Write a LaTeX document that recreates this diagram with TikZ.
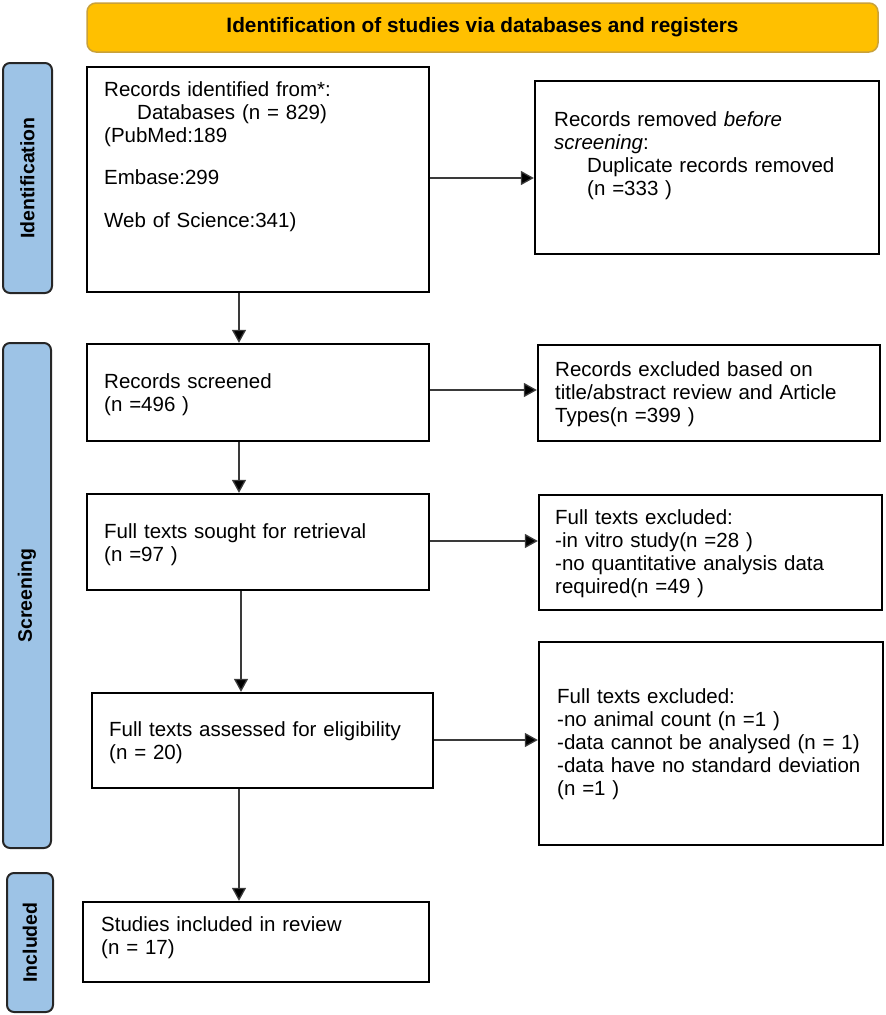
\documentclass[tikz,border=0pt]{standalone}
\usepackage{fontspec}
\setmainfont{Liberation Sans}
\usetikzlibrary{arrows.meta}
\definecolor{barblue}{HTML}{9DC3E6}
\definecolor{bannerfill}{HTML}{FFC000}
\definecolor{bannerdraw}{HTML}{C9A13A}
\definecolor{arrgray}{HTML}{3A3A3A}
\newcommand\fsz{\fontsize{20.5}{23}\selectfont}
\newcommand\bsz{\fontsize{19.5}{22}\selectfont\bfseries}
\begin{document}
\begin{tikzpicture}[x=1pt,y=-1pt,
  box/.style={draw=black, line width=2.3pt, fill=white, inner sep=0pt},
  sidebar/.style={draw=black!85, line width=2pt, fill=barblue, rounded corners=7pt, inner sep=0pt},
  barlabel/.style={rotate=90, font=\bsz, text=black},
  txt/.style={font=\fsz, inner sep=0pt, anchor=base west, text width=330pt, align=left},
  arr/.style={draw=arrgray, line width=1.3pt, -{Triangle[length=13pt,width=14pt,fill=black]}}
]
\useasboundingbox (0,0) rectangle (886,1015);

% banner
\node[draw=bannerdraw, line width=1.5pt, fill=bannerfill, rounded corners=9pt,
      minimum width=791pt, minimum height=49pt, inner sep=0pt,
      font=\fontsize{20.8}{22}\selectfont\bfseries] (banner) at (482.5,27.5)
      {Identification of studies via databases and registers};

% side bars
\node[sidebar, minimum width=49pt, minimum height=230pt] (barI) at (27.5,178) {};
\node[barlabel] (labI) at (barI.center) {Identification};
\node[sidebar, minimum width=48pt, minimum height=505pt] (barS) at (27,595.5) {};
\node[barlabel] (labS) at (barS.center) {Screening};
\node[sidebar, minimum width=46pt, minimum height=139pt] (barC) at (30,942.5) {};
\node[barlabel] (labC) at (barC.center) {Included};

% left boxes
\node[box, minimum width=342pt, minimum height=225pt] (B1) at (258,179.5) {};
\node[box, minimum width=342pt, minimum height=97pt] (B2) at (258,392.5) {};
\node[box, minimum width=342pt, minimum height=96pt] (B3) at (258,542) {};
\node[box, minimum width=341pt, minimum height=95pt] (B4) at (262.5,740.5) {};
\node[box, minimum width=346pt, minimum height=80pt] (B5) at (256,942) {};

% right boxes
\node[box, minimum width=344pt, minimum height=173pt] (R1) at (707,167.5) {};
\node[box, minimum width=342pt, minimum height=96pt] (R2) at (709,393) {};
\node[box, minimum width=343pt, minimum height=115pt] (R3) at (710.5,552.5) {};
\node[box, minimum width=344pt, minimum height=203pt] (R4) at (711,743.5) {};

% texts
\node[txt] (tB1) at (104,96) {Records identified from*:\\
\hspace*{33pt}Databases (n = 829)\\
(PubMed:189\\[19.5pt]
Embase:299\\[19.5pt]
Web of Science:341)};
\node[txt] (tB2) at (104,388) {Records screened\\(n =496 )};
\node[txt] (tB3) at (104,538) {Full texts sought for retrieval\\(n =97 )};
\node[txt] (tB4) at (109,736) {Full texts assessed for eligibility\\(n = 20)};
\node[txt] (tB5) at (101,931) {Studies included in review\\(n = 17)};

\node[txt] (tR1) at (554,126) {Records removed \textit{before}\\
\textit{screening}:\\
\hspace*{33pt}Duplicate records removed\\
\hspace*{33pt}(n =333 )};
\node[txt] (tR2) at (555,376) {Records excluded based on\\
title/abstract review and Article\\
Types(n =399 )};
\node[txt] (tR3) at (555,524) {Full texts excluded:\\
-in vitro study(n =28 )\\
-no quantitative analysis data\\
required(n =49 )};
\node[txt] (tR4) at (557,703) {Full texts excluded:\\
-no animal count (n =1 )\\
-data cannot be analysed (n = 1)\\
-data have no standard deviation\\
(n =1 )};

% connector guides
\coordinate (v1) at (239,0);
\coordinate (v2) at (241,0);
\coordinate (h1) at (0,178);
\coordinate (h2) at (0,390);
\coordinate (h3) at (0,541);
\coordinate (h4) at (0,740);

% connectors
\draw[arr] (B1.south -| v1) -- (B2.north -| v1);
\draw[arr] (B2.south -| v1) -- (B3.north -| v1);
\draw[arr] (B3.south -| v2) -- (B4.north -| v2);
\draw[arr] (B4.south -| v1) -- (B5.north -| v1);

\draw[arr] (B1.east |- h1) -- (R1.west |- h1);
\draw[arr] (B2.east |- h2) -- (R2.west |- h2);
\draw[arr] (B3.east |- h3) -- (R3.west |- h3);
\draw[arr] (B4.east |- h4) -- (R4.west |- h4);
\end{tikzpicture}
\end{document}
